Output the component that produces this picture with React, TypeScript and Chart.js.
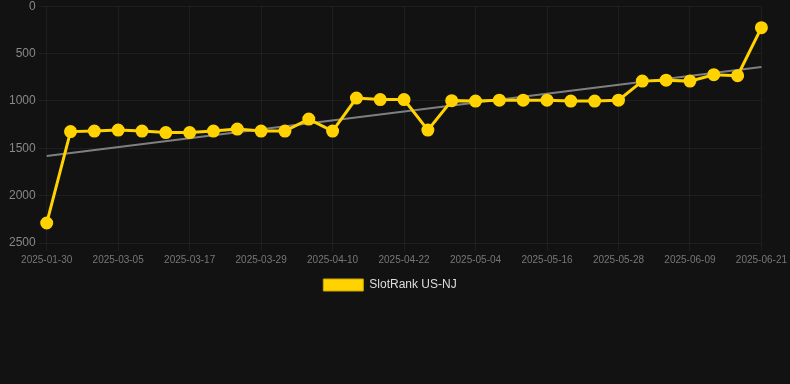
import React, { useEffect, useRef } from "react";
import { Chart, registerables } from "chart.js";

Chart.register(...registerables);

const labels: string[] = [
  "2025-01-30", "2025-02-21", "2025-02-27", "2025-03-05", "2025-03-08", "2025-03-11",
  "2025-03-17", "2025-03-20", "2025-03-23", "2025-03-29", "2025-04-01", "2025-04-04",
  "2025-04-10", "2025-04-13", "2025-04-16", "2025-04-22", "2025-04-25", "2025-04-28",
  "2025-05-04", "2025-05-07", "2025-05-10", "2025-05-16", "2025-05-19", "2025-05-22",
  "2025-05-28", "2025-05-31", "2025-06-03", "2025-06-09", "2025-06-12", "2025-06-15",
  "2025-06-21",
];

const rankValues: number[] = [
  2289, 1324, 1318, 1308, 1318, 1334, 1334, 1318, 1297, 1318, 1318, 1192,
  1318, 970, 986, 986, 1308, 997, 1002, 992, 992, 992, 1002, 1002,
  992, 791, 781, 791, 723, 733, 227,
];

const trendEnds: number[] = [1582, 643];

const seriesName = "SlotRank US-NJ";
const yTicks = { min: 0, max: 2500, step: 500 };
const FONT = "'Liberation Sans', Arial, sans-serif";

export default function App() {
  const ref = useRef<HTMLCanvasElement | null>(null);

  useEffect(() => {
    if (!ref.current) return;
    const trendData: (number | null)[] = labels.map(() => null);
    trendData[0] = trendEnds[0];
    trendData[labels.length - 1] = trendEnds[1];

    const chart = new Chart(ref.current, {
      type: "line",
      data: {
        labels,
        datasets: [
          {
            label: seriesName,
            data: rankValues,
            borderColor: "#FFD200",
            backgroundColor: "#FFD200",
            borderWidth: 3,
            pointRadius: 5,
            pointHoverRadius: 5,
            pointBackgroundColor: "#FFD200",
            pointBorderColor: "#FFD200",
            tension: 0,
            order: 1,
          },
          {
            label: "trend",
            data: trendData,
            borderColor: "rgba(140,140,140,0.9)",
            backgroundColor: "rgba(140,140,140,0.9)",
            borderWidth: 2,
            pointRadius: 0,
            spanGaps: true,
            order: 2,
          },
        ],
      },
      options: {
        animation: false,
        responsive: true,
        maintainAspectRatio: false,
        layout: { padding: { left: 6, right: 16, top: 0, bottom: 0 } },
        plugins: {
          legend: {
            position: "bottom",
            labels: {
              color: "#dddddd",
              boxWidth: 40,
              boxHeight: 12,
              font: { family: FONT, size: 12 },
              filter: (item) => item.text !== "trend",
              generateLabels: (c) =>
                Chart.defaults.plugins.legend.labels
                  .generateLabels(c)
                  .map((l) => ({ ...l, lineWidth: 1, strokeStyle: "#c9a600" })),
            },
          },
          tooltip: { enabled: false },
        },
        scales: {
          x: {
            grid: { color: "rgba(255,255,255,0.05)" },
            border: { display: false },
            ticks: {
              color: "#777777",
              maxRotation: 0,
              autoSkip: true,
              font: { family: FONT, size: 10 },
            },
          },
          y: {
            reverse: true,
            min: yTicks.min,
            max: yTicks.max,
            grid: { color: "rgba(255,255,255,0.05)" },
            border: { display: false },
            ticks: {
              stepSize: yTicks.step,
              color: "#888888",
              callback: (v) => String(v),
              font: { family: FONT, size: 12 },
            },
          },
        },
      },
    });
    return () => chart.destroy();
  }, []);

  return (
    <div style={{ position: "fixed", inset: 0, background: "#121212", overflow: "hidden" }}>
      <div style={{ position: "absolute", left: 0, top: -4, width: 790, height: 305 }}>
        <canvas ref={ref} />
      </div>
    </div>
  );
}
